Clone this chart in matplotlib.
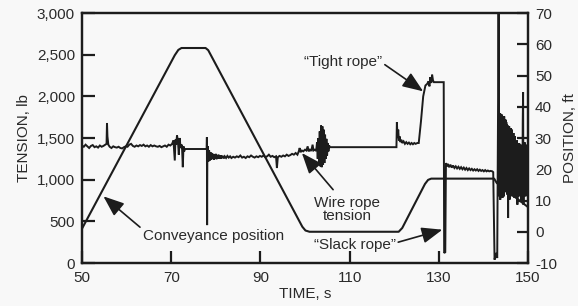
import matplotlib
matplotlib.use("Agg")
import matplotlib.pyplot as plt

plt.rcParams['font.family'] = ['Liberation Sans', 'DejaVu Sans']

INK = '#1c1c1c'
TXT = '#2a2a2a'

# ---------------- data ----------------
time_ticks = [50, 70, 90, 110, 130, 150]
tension_ticks = [0, 500, 1000, 1500, 2000, 2500, 3000]
tension_labels = ['0', '500', '1,000', '1,500', '2,000', '2,500', '3,000']
position_ticks = [-10, 0, 10, 20, 30, 40, 50, 60, 70]

# Conveyance position (ft) vs time (s)
pos_t = [50.0, 70.8, 71.6, 72.3, 77.7, 78.3, 99.4, 100.1, 101.0, 121.0, 121.8,
         126.9, 127.6, 128.3, 142.4, 143.0, 150.0]
pos_v = [1.0, 56.5, 58.2, 58.8, 58.8, 58.1, 1.6, 0.4, 0.0, 0.0, 1.2,
         15.3, 16.6, 17.0, 17.0, 15.6, 7.9]

# Wire rope tension (lb) vs time (s)
ten_t = [50.0, 50.4, 50.8, 51.2, 51.6, 52.0, 52.4, 52.8, 53.2, 53.6, 54.0, 54.4, 54.8,
         55.2, 55.5, 55.6, 55.7, 55.9, 56.2, 56.6, 57.0, 57.4, 57.8, 58.2, 58.6, 59.0,
         59.4, 59.8, 60.2, 60.6, 61.0, 61.4, 61.8, 62.2, 62.6, 63.0, 63.4, 63.8, 64.2,
         64.6, 65.0, 65.4, 65.8, 66.2, 66.6, 67.0, 67.4, 67.8, 68.2, 68.6, 69.0, 69.4,
         69.8,
         70.2, 70.5, 70.8, 70.95, 71.1, 71.3, 71.5, 71.7, 71.9, 72.1, 72.4, 72.6, 72.75,
         72.9, 73.1,
         77.95, 78.0, 78.05, 78.1,
         78.2, 78.35, 78.5, 78.65, 78.8, 78.95, 79.1, 79.25, 79.4, 79.55, 79.7, 79.85,
         80.0, 80.15, 80.3, 80.45, 80.6, 80.75, 80.9, 81.05, 81.2, 81.4, 81.6, 81.8,
         82.0, 82.3, 82.6, 82.9, 83.2, 83.5, 83.9, 84.3, 84.7, 85.1, 85.5, 85.9, 86.3,
         86.7, 87.1, 87.5, 87.9, 88.3, 88.7, 89.1, 89.5, 89.9, 90.3, 90.7, 91.1, 91.5,
         91.9, 92.3, 92.7, 93.1, 93.5, 93.7, 93.9, 94.3, 94.7, 95.1, 95.5, 95.9, 96.3,
         96.7, 97.1, 97.5, 97.9, 98.3, 98.6, 98.8, 99.0, 99.3, 99.6, 100.0, 100.3, 100.6,
         100.8, 101.1, 101.4, 101.7, 101.9, 102.2, 102.5,
         102.7, 102.85, 103.0, 103.15, 103.3, 103.45, 103.6, 103.75, 103.9, 104.05,
         104.2, 104.35, 104.5, 104.65, 104.8, 104.95, 105.1, 105.25, 105.4, 105.6,
         120.5, 120.6, 120.75, 120.9, 121.05, 121.2, 121.4, 121.6, 121.8, 122.1, 122.4,
         122.7, 123.0, 123.3, 123.6, 123.9, 124.2, 124.5, 124.8, 125.2,
         125.5, 126.0, 126.5, 127.0, 127.4, 127.7, 127.9, 128.1, 128.3, 128.5, 128.7,
         128.9, 131.1, 131.2, 131.45, 131.6,
         131.8, 132.0, 132.3, 132.6, 132.9, 133.2, 133.5, 133.8, 134.1, 134.4, 134.7,
         135.0, 135.3, 135.6, 135.9, 136.2, 136.5, 136.8, 137.1, 137.4, 137.7, 138.0,
         138.3, 138.6, 138.9, 139.2, 139.5, 139.8, 140.1, 140.4, 140.7, 141.0, 141.3,
         141.6, 142.0,
         142.2, 142.5, 142.8, 143.1, 143.4, 143.55,
         143.62, 143.7, 143.78, 143.86, 143.94, 144.02, 144.1, 144.18, 144.26, 144.34,
         144.42, 144.5, 144.58, 144.66, 144.74, 144.82, 144.9, 144.98, 145.06, 145.14,
         145.22, 145.3, 145.38, 145.46, 145.54, 145.62, 145.7, 145.78, 145.86, 145.94,
         146.02, 146.1, 146.18, 146.26, 146.34, 146.42, 146.5, 146.58, 146.66, 146.74,
         146.82, 146.9, 146.98, 147.06, 147.14, 147.22, 147.3, 147.38, 147.46, 147.54,
         147.62, 147.7, 147.78, 147.86, 147.94, 148.02, 148.1, 148.18, 148.26, 148.34,
         148.42, 148.5, 148.58, 148.66, 148.74, 148.82, 148.9, 148.98, 149.06, 149.14,
         149.22, 149.3, 149.38, 149.46, 149.54, 149.62, 149.7, 149.78, 149.86, 149.94]
ten_v = [1410, 1395, 1420, 1400, 1380, 1405, 1415, 1390, 1400, 1385, 1410, 1395, 1405,
         1420, 1430, 1680, 1520, 1420, 1395, 1380, 1400, 1390, 1385, 1395, 1380, 1375,
         1390, 1400, 1395, 1420, 1430, 1405, 1395, 1410, 1400, 1415, 1405, 1420, 1400,
         1410, 1395, 1415, 1400, 1410, 1400, 1395, 1405, 1390, 1400, 1410, 1395, 1420,
         1410,
         1430, 1470, 1230, 1480, 1420, 1530, 1470, 1300, 1500, 1380, 1420, 1150, 1400,
         1340, 1368,
         1368, 1510, 455, 1300,
         1400, 1220, 1350, 1230, 1330, 1240, 1320, 1250, 1310, 1240, 1300, 1250,
         1310, 1245, 1295, 1250, 1300, 1255, 1290, 1250, 1290, 1260, 1285, 1255,
         1280, 1260, 1285, 1265, 1280, 1260, 1275, 1265, 1280, 1270, 1290, 1265, 1275,
         1260, 1280, 1270, 1290, 1275, 1265, 1280, 1270, 1285, 1275, 1290, 1270, 1280,
         1300, 1275, 1285, 1270, 1280, 1140, 1270, 1285, 1275, 1290, 1280, 1300, 1285,
         1295, 1310, 1300, 1320, 1300, 1340, 1380, 1330, 1350, 1340, 1360, 1350, 1400,
         1340, 1360, 1345, 1420, 1350, 1360, 1345,
         1450, 1250, 1500, 1200, 1580, 1160, 1650, 1150, 1640, 1180,
         1600, 1200, 1540, 1250, 1490, 1290, 1440, 1340, 1410, 1390,
         1390, 1690, 1500, 1600, 1470, 1520, 1450, 1480, 1440, 1460, 1430,
         1450, 1430, 1445, 1425, 1440, 1425, 1440, 1430, 1440,
         1440, 1700, 2000, 2130, 2150, 2180, 2120, 2230, 2160, 2260, 2190,
         2170, 2170, 120, 130, 1200,
         1160, 1190, 1150, 1180, 1145, 1170, 1140, 1160, 1135, 1155, 1130,
         1150, 1125, 1145, 1120, 1140, 1115, 1135, 1115, 1130, 1110, 1125,
         1110, 1125, 1105, 1120, 1105, 1115, 1100, 1115, 1100, 1110, 1100,
         1105, 1100,
         1090, 40, 120, 60, 3000, 1300,
         800, 1800, 760, 1790, 820, 1760, 880, 1780, 780, 1750,
         900, 1720, 800, 1760, 880, 1700, 950, 1720, 850, 1690,
         1000, 1660, 820, 1650, 540, 1600, 900, 1640, 760, 1580,
         980, 1620, 850, 1550, 1000, 1600, 800, 1500, 950, 1560,
         1100, 1480, 780, 1520, 1000, 1460, 900, 1440, 820, 1470,
         700, 1420, 960, 1400, 800, 1440, 1000, 1380, 860, 1420,
         760, 1350, 1000, 1400, 820, 1700, 2050, 700, 1200, 850,
         1450, 880, 1300, 800, 1420, 850, 1250, 900, 1350, 820]

# ---------------- figure ----------------
fig = plt.figure(figsize=(5.78, 3.06), dpi=100, facecolor='#f8f8f8')
ax = fig.add_axes([0.1419, 0.1405, 0.7716, 0.8170])
ax.set_facecolor('#f8f8f8')
ax2 = ax.twinx()

ax.plot(ten_t, ten_v, color=INK, lw=1.4, solid_joinstyle='miter', zorder=3)
ax2.plot(pos_t, pos_v, color=INK, lw=1.5, zorder=3)

ax.set_xlim(50, 150)
ax.set_ylim(0, 3000)
ax2.set_ylim(-10, 70)

ax.set_xticks(time_ticks)
ax.set_xticklabels([str(t) for t in time_ticks])
ax.set_yticks(tension_ticks)
ax.set_yticklabels(tension_labels)
ax2.set_yticks(position_ticks)
ax2.set_yticklabels([str(p) for p in position_ticks])

for a in (ax, ax2):
    for s in a.spines.values():
        s.set_linewidth(1.6)
        s.set_color(INK)
ax.tick_params(axis='both', direction='in', length=9, width=1.6, color=INK,
               labelsize=11, labelcolor=TXT, pad=5)
ax.tick_params(axis='x', pad=6)
ax2.tick_params(axis='y', direction='in', length=8, width=1.6, color=INK,
                labelsize=11, labelcolor=TXT, pad=5)

ax.set_xlabel('TIME, s', fontsize=11, color=TXT, labelpad=1)
ax.set_ylabel('TENSION, lb', fontsize=11, color=TXT, labelpad=4)
ax2.set_ylabel('POSITION, ft', fontsize=11, color=TXT, labelpad=4)

arrow = dict(arrowstyle='-|>,head_length=1.15,head_width=0.45', color=INK, lw=1.2,
             shrinkA=0, shrinkB=0, mutation_scale=11)

ax.text(63.7, 330, 'Conveyance position', ha='left', va='center', fontsize=11,
        color=TXT)
ax.annotate('', xy=(54.8, 800), xytext=(63.0, 430), arrowprops=arrow)
ax.text(109.4, 640, 'Wire rope\ntension', ha='center', va='center', fontsize=11,
        color=TXT, linespacing=0.95)
ax.annotate('', xy=(99.3, 1320), xytext=(106.3, 880), arrowprops=arrow)
ax.text(111.2, 220, '\u201cSlack rope\u201d', ha='center', va='center', fontsize=11,
        color=TXT)
ax.annotate('', xy=(130.8, 400), xytext=(120.9, 250), arrowprops=arrow)
ax.text(108.5, 2410, '\u201cTight rope\u201d', ha='center', va='center', fontsize=11,
        color=TXT)
ax.annotate('', xy=(126.5, 2060), xytext=(117.9, 2380), arrowprops=arrow)

fig.savefig('out.png', dpi=100, facecolor=fig.get_facecolor())
